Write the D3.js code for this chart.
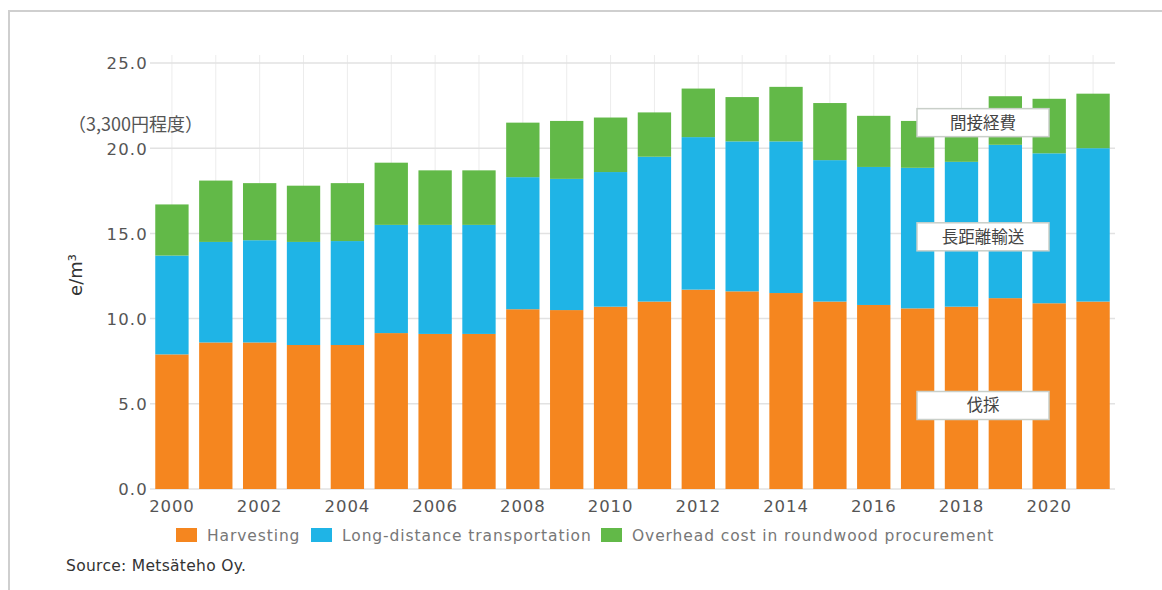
<!DOCTYPE html>
<html>
<head>
<meta charset="utf-8">
<script src="https://cdn.jsdelivr.net/npm/d3@7"></script>
<style>
  html, body { margin: 0; padding: 0; background: #fff; }
  svg { display: block; }
</style>
</head>
<body>
<svg id="chart" width="1162" height="590"></svg>
<script>
// Wood procurement cost components, €/m³, 2000–2021
const years = [2000, 2001, 2002, 2003, 2004, 2005, 2006, 2007, 2008, 2009, 2010,
               2011, 2012, 2013, 2014, 2015, 2016, 2017, 2018, 2019, 2020, 2021];
const harvesting = [7.9, 8.6, 8.6, 8.45, 8.45, 9.15, 9.1, 9.1, 10.55, 10.5, 10.7,
                    11.0, 11.7, 11.6, 11.5, 11.0, 10.8, 10.6, 10.7, 11.2, 10.9, 11.0];
const transport = [5.8, 5.9, 6.0, 6.05, 6.1, 6.35, 6.4, 6.4, 7.75, 7.7, 7.9,
                   8.5, 8.95, 8.8, 8.9, 8.3, 8.1, 8.25, 8.5, 9.0, 8.8, 9.0];
const overhead = [3.0, 3.6, 3.35, 3.3, 3.4, 3.65, 3.2, 3.2, 3.2, 3.4, 3.2,
                  2.6, 2.85, 2.6, 3.2, 3.35, 3.0, 2.75, 2.8, 2.85, 3.2, 3.2];
const seriesNames = ["Harvesting", "Long-distance transportation", "Overhead cost in roundwood procurement"];
const seriesColors = ["#f5861f", "#1fb4e6", "#62b948"];
const yTicks = [0, 5, 10, 15, 20, 25];
const xTickYears = [2000, 2002, 2004, 2006, 2008, 2010, 2012, 2014, 2016, 2018, 2020];
const boxLabels = ["間接経費", "長距離輸送", "伐採"];
const boxLevels = [21.5, 14.8, 4.9];

const svg = d3.select("#chart");
const tickFont = "'DejaVu Sans', Verdana, sans-serif";
const cjkFont = "'Noto Sans CJK JP', sans-serif";

// outer frame (top and left edges)
svg.append("path")
  .attr("d", "M9,590 L9,11 L1162,11")
  .attr("fill", "none").attr("stroke", "#cfcfcf").attr("stroke-width", 2);

const x = d3.scaleBand().domain(years).range([150, 1115]).paddingInner(0.24).paddingOuter(0.12);
const y = d3.scaleLinear().domain([0, 25]).range([489, 63]);

// gridlines
const grid = svg.append("g");
grid.selectAll("line.v").data(years).join("line")
  .attr("class", "v")
  .attr("x1", d => x(d) + x.bandwidth() / 2).attr("x2", d => x(d) + x.bandwidth() / 2)
  .attr("y1", 55).attr("y2", 489)
  .attr("stroke", "#ececec").attr("stroke-width", 1);
grid.selectAll("line.h").data(yTicks).join("line")
  .attr("class", "h")
  .attr("x1", 150).attr("x2", 1115)
  .attr("y1", d => y(d)).attr("y2", d => y(d))
  .attr("stroke", "#e2e2e2").attr("stroke-width", 1.5);

// stacked bars
const rows = years.map((yr, i) => ({ year: yr, h: harvesting[i], t: transport[i], o: overhead[i] }));
const stack = d3.stack().keys(["h", "t", "o"])(rows);
svg.append("g").selectAll("g").data(stack).join("g")
  .attr("fill", (d, i) => seriesColors[i])
  .selectAll("rect").data(d => d).join("rect")
  .attr("x", d => x(d.data.year))
  .attr("width", x.bandwidth())
  .attr("y", d => y(d[1]))
  .attr("height", d => y(d[0]) - y(d[1]));

// y axis
const yAxis = svg.append("g").attr("transform", "translate(148,0)")
  .call(d3.axisLeft(y).tickValues(yTicks).tickFormat(d3.format(".1f")).tickSize(0).tickPadding(0));
yAxis.select(".domain").remove();
yAxis.selectAll("text")
  .attr("font-family", tickFont).attr("font-size", 16.5).attr("fill", "#555")
  .attr("letter-spacing", 1.2).attr("dy", "0.36em");

// x axis
const xAxis = svg.append("g").attr("transform", "translate(0,496)")
  .call(d3.axisBottom(x).tickValues(xTickYears).tickSize(0).tickPadding(0));
xAxis.select(".domain").remove();
xAxis.selectAll("text")
  .attr("font-family", tickFont).attr("font-size", 16.5).attr("fill", "#555")
  .attr("letter-spacing", 0.9).attr("dy", "0.95em");

// y axis title
svg.append("text")
  .attr("transform", "translate(82,275) rotate(-90)")
  .attr("text-anchor", "middle")
  .attr("font-family", tickFont).attr("font-size", 18).attr("fill", "#333")
  .text("e/m³");

// yen note
svg.append("text")
  .attr("x", 68).attr("y", 131)
  .attr("font-family", cjkFont).attr("font-size", 18).attr("fill", "#555")
  .text("（3,300円程度）");

// category boxes
const boxes = svg.append("g").selectAll("g").data(boxLabels).join("g")
  .attr("transform", (d, i) => `translate(917,${y(boxLevels[i]) - 14})`);
boxes.append("rect")
  .attr("width", 132).attr("height", 28)
  .attr("fill", "#fff").attr("stroke", "#c9cfc9").attr("stroke-width", 1.5);
boxes.append("text")
  .attr("x", 66).attr("y", 14).attr("dy", "0.36em")
  .attr("text-anchor", "middle")
  .attr("font-family", cjkFont).attr("font-size", 16.5).attr("fill", "#444")
  .text(d => d);

// legend
const legendX = [176, 311, 601];
const legend = svg.append("g").selectAll("g").data(seriesNames).join("g")
  .attr("transform", (d, i) => `translate(${legendX[i]},528)`);
legend.append("rect")
  .attr("width", 21).attr("height", 14)
  .attr("fill", (d, i) => seriesColors[i]);
legend.append("text")
  .attr("x", 31).attr("y", 13)
  .attr("font-family", tickFont).attr("font-size", 15.5).attr("fill", "#777")
  .attr("letter-spacing", 0.9)
  .text(d => d);

// source line
svg.append("text")
  .attr("x", 66).attr("y", 571)
  .attr("font-family", tickFont).attr("font-size", 15.5).attr("fill", "#333")
  .attr("letter-spacing", 0.3)
  .text("Source: Metsäteho Oy.");
</script>
</body>
</html>
